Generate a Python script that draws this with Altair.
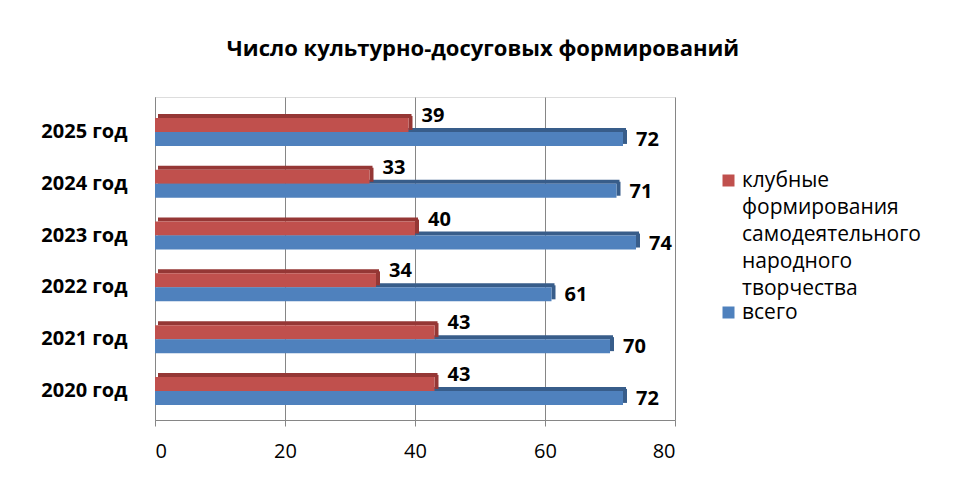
import altair as alt
import pandas as pd

years = ["2020 год", "2021 год", "2022 год", "2023 год", "2024 год", "2025 год"]
klub = [43, 43, 34, 40, 33, 39]
vsego = [72, 70, 61, 74, 71, 72]
series = ["клубные формирования самодеятельного народного творчества", "всего"]
x_ticks = [0, 20, 40, 60, 80]
title_text = "Число культурно-досуговых формирований"

rows = []
for y, a, b in zip(years, klub, vsego):
    rows.append({"year": y, "series": series[0], "value": a})
    rows.append({"year": y, "series": series[1], "value": b})
df = pd.DataFrame(rows)

FONT = "Open Sans"
RED, BLUE = "#C0504D", "#4F81BD"
RED_D, BLUE_D = "#953735", "#385D8A"

yscale = alt.Scale(domain=years[::-1], paddingInner=0, paddingOuter=0.118, align=0.74)
xscale = alt.Scale(domain=[0, 80])

base = alt.Chart(df)
Y = alt.Y("year:N", scale=yscale, sort=years[::-1],
          axis=alt.Axis(title=None, ticks=False, labelFontWeight="bold",
                        labelFontSize=20, labelColor="#000000", labelPadding=28,
                        domainColor="#868686", labelFont=FONT))
X = alt.X("value:Q", scale=xscale,
          axis=alt.Axis(title=None, values=x_ticks, grid=True, gridColor="#868686",
                        domainColor="#868686", tickColor="#868686", tickSize=6,
                        labelFontSize=20, labelColor="#000000", labelPadding=15,
                        labelFont=FONT))

is_red = alt.datum.series == series[0]
is_blue = alt.datum.series == series[1]

blue_top = base.transform_filter(is_blue).mark_bar(
    height=4, yOffset=-2, xOffset=3, x2Offset=3, color=BLUE_D).encode(x=X, y=Y)
red_top = base.transform_filter(is_red).mark_bar(
    height=4, yOffset=-16, xOffset=3, x2Offset=3, color=RED_D).encode(x=X, y=Y)
red_bar = base.transform_filter(is_red).mark_bar(
    height=14, yOffset=-7).encode(
    x=X, y=Y,
    color=alt.Color("series:N", scale=alt.Scale(domain=series, range=[RED, BLUE]),
                    legend=alt.Legend(title=None, orient="none", legendX=563, legendY=73,
                                      symbolType="square", symbolSize=144,
                                      symbolStrokeWidth=0,
                                      labelFontSize=21, labelFont=FONT, labelLimit=300,
                                      labelColor="#000000", labelOffset=3,
                                      labelExpr="datum.label == 'всего' ? 'всего' : ['клубные','формирования','самодеятельного','народного','творчества']")))
red_end = base.transform_filter(is_red).mark_bar(
    height=14, yOffset=-9, x2Offset=4, color=RED_D).encode(
    x=X, x2="value:Q", y=Y)
blue_bar = base.transform_filter(is_blue).mark_bar(
    height=14, yOffset=7).encode(
    x=X, y=Y, color=alt.Color("series:N", scale=alt.Scale(domain=series, range=[RED, BLUE])))
blue_end = base.transform_filter(is_blue).mark_bar(
    height=14, yOffset=5, x2Offset=4, color=BLUE_D).encode(
    x=X, x2="value:Q", y=Y)

red_lbl = base.transform_filter(is_red).mark_text(
    align="left", dx=13, dy=-16, fontSize=20, fontWeight="bold", font=FONT,
    color="#000000").encode(x=X, y=Y, text="value:Q")
blue_lbl = base.transform_filter(is_blue).mark_text(
    align="left", dx=13, dy=8, fontSize=20, fontWeight="bold", font=FONT,
    color="#000000").encode(x=X, y=Y, text="value:Q")

chart = alt.layer(blue_top, red_top, red_end, red_bar, blue_end, blue_bar,
                  red_lbl, blue_lbl).properties(
    width=520, height=323,
    autosize=alt.AutoSizeParams(type="none"),
    padding={"left": 147, "top": 89, "right": 277, "bottom": 50},
    title=alt.TitleParams(title_text, fontSize=22, fontWeight="bold", font=FONT,
                          color="#000000", anchor="middle", dx=68, offset=19,
                          baseline="alphabetic"),
).configure_view(stroke=None).configure(
    background="#FFFFFF", style={"guide-label": {"lineHeight": 27}})

chart.save("out.html", embed_options={"renderer": "svg", "actions": False})
